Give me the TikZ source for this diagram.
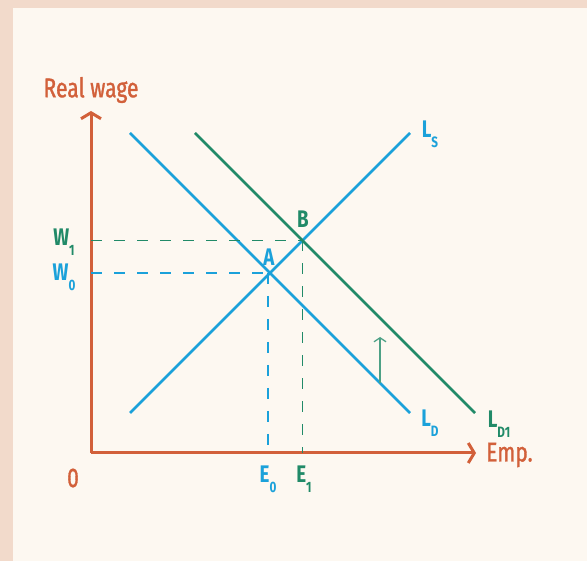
\documentclass[tikz,border=0pt]{standalone}
\usepackage{fontspec}
\setmainfont{Fira Sans}[FakeStretch=0.78]
\usetikzlibrary{arrows.meta,positioning,calc}
\definecolor{axisred}{HTML}{D2603A}
\definecolor{lineblue}{HTML}{1BA1DA}
\definecolor{linegreen}{HTML}{218A68}
\definecolor{paper}{HTML}{FDF8F1}
\definecolor{rim}{HTML}{F2DACB}
\newcommand{\lowsub}[1]{\raisebox{-0.42em}{\fontsize{15}{15}\selectfont\bfseries #1}}
\tikzset{
  axis/.style={draw=axisred, line width=3pt, -{Straight Barb[length=6pt, width=20pt]}},
  curve/.style={line width=2.8pt},
  guide/.style={line width=1.3pt, dash pattern=on 11pt off 12pt},
  lbl/.style={font=\fontsize{24}{24}\selectfont\bfseries, inner sep=0pt},
  axlbl/.style={font=\fontsize{27}{27}\selectfont\addfontfeatures{FakeBold=1.2}, text=axisred, inner sep=0pt},
  shiftarr/.style={draw=linegreen!80, line width=1.3pt, -{Straight Barb[length=4pt, width=12pt]}}
}
\begin{document}
\begin{tikzpicture}[x=1pt, y=-1pt]
\useasboundingbox (0,0) rectangle (587,561);
\fill[rim] (0,0) rectangle (587,561);
\fill[paper] (13,8) rectangle (587,561);

% axes
\coordinate (O) at (91,453);
\coordinate (ytop) at (91,111);
\coordinate (xend) at (476,453);
\draw[axis] (O) -- (ytop);
\draw[axis] (O) -- (xend);
\node[axlbl] (ylab) at (91,90) {Real wage};
\node[axlbl, anchor=west] (xlab) at (486,455) {Emp.};
\node[axlbl] (zero) at (73,478) {0};

% curves
\coordinate (ls0) at (130,413);
\coordinate (ls1) at (410,133);
\coordinate (ld0) at (130,133);
\coordinate (ld1) at (410,413);
\coordinate (ldd0) at (195,133);
\coordinate (ldd1) at (475,413);
\draw[curve, lineblue] (ls0) -- (ls1);
\draw[curve, lineblue] (ld0) -- (ld1);
\draw[curve, linegreen] (ldd0) -- (ldd1);
\coordinate (A) at (intersection of ls0--ls1 and ld0--ld1);
\coordinate (B) at (intersection of ls0--ls1 and ldd0--ldd1);

% guides
\draw[guide, lineblue] (A -| O) -- (A);
\draw[guide, lineblue] ([xshift=-2pt]A) -- ([xshift=-2pt]A |- O);
\draw[guide, linegreen] (B -| O) -- (B);
\draw[guide, linegreen] (B) -- (B |- O);

% shift of demand
\coordinate (s0) at (380,383);
\coordinate (s1) at (380,337);
\draw[shiftarr] (s0) -- (s1);

% labels
\node[lbl, text=lineblue] (Ls) at (430,134) {L\lowsub{S}};
\node[lbl, text=lineblue] (Ld) at (430,423) {L\lowsub{D}};
\node[lbl, text=linegreen] (Ld1) at (499,424) {L\lowsub{D1}};
\node[lbl, text=lineblue] (Alab) at (269,257) {A};
\node[lbl, text=linegreen] (Blab) at (303,219) {B};
\node[lbl, text=linegreen] (W1) at (64,242) {W\lowsub{1}};
\node[lbl, text=lineblue] (W0) at (64,277) {W\lowsub{0}};
\node[lbl, text=lineblue] (E0) at (268,479) {E\lowsub{0}};
\node[lbl, text=linegreen] (E1) at (304,479) {E\lowsub{1}};
\end{tikzpicture}
\end{document}
